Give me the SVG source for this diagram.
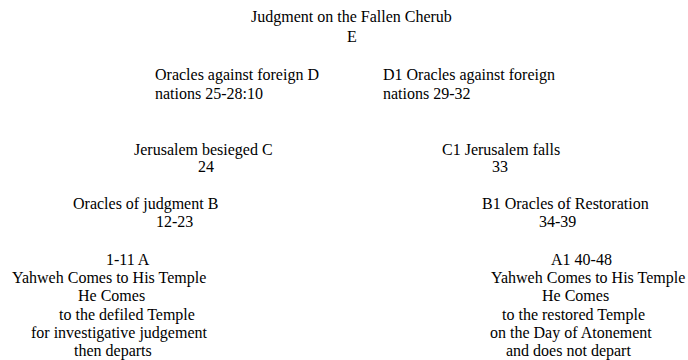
<svg xmlns="http://www.w3.org/2000/svg" width="688" height="360" viewBox="0 0 688 360">
<style>
text { font-family: "Liberation Serif", "Times New Roman", serif; font-size: 16px; fill: #000; }
</style>
<rect width="688" height="360" fill="#fff"/>
<g id="connectors"></g>
<g id="node-E">
<text><tspan x="251" y="22">Judgment on the Fallen Cherub</tspan><tspan x="347" y="42">E</tspan></text>
</g>
<g id="node-D">
<text><tspan x="155" y="80">Oracles against foreign D</tspan><tspan x="155" y="99">nations 25-28:10</tspan></text>
</g>
<g id="node-D1">
<text><tspan x="383" y="80">D1 Oracles against foreign</tspan><tspan x="383" y="99">nations 29-32</tspan></text>
</g>
<g id="node-C">
<text><tspan x="134" y="155">Jerusalem besieged C</tspan><tspan x="198" y="172">24</tspan></text>
</g>
<g id="node-C1">
<text><tspan x="442" y="155">C1 Jerusalem falls</tspan><tspan x="492" y="172">33</tspan></text>
</g>
<g id="node-B">
<text><tspan x="73" y="209">Oracles of judgment B</tspan><tspan x="156" y="227">12-23</tspan></text>
</g>
<g id="node-B1">
<text><tspan x="482" y="209">B1 Oracles of Restoration</tspan><tspan x="539" y="227">34-39</tspan></text>
</g>
<g id="node-A">
<text><tspan x="106" y="265">1-11 A</tspan><tspan x="12" y="283">Yahweh Comes to His Temple</tspan><tspan x="78" y="301">He Comes</tspan><tspan x="59" y="319.5">to the defiled Temple</tspan><tspan x="31" y="338">for investigative judgement</tspan><tspan x="74" y="356">then departs</tspan></text>
</g>
<g id="node-A1">
<text><tspan x="551" y="265">A1 40-48</tspan><tspan x="491" y="283">Yahweh Comes to His Temple</tspan><tspan x="542" y="301">He Comes</tspan><tspan x="502" y="319.5">to the restored Temple</tspan><tspan x="490" y="338">on the Day of Atonement</tspan><tspan x="506" y="356">and does not depart</tspan></text>
</g>
</svg>
